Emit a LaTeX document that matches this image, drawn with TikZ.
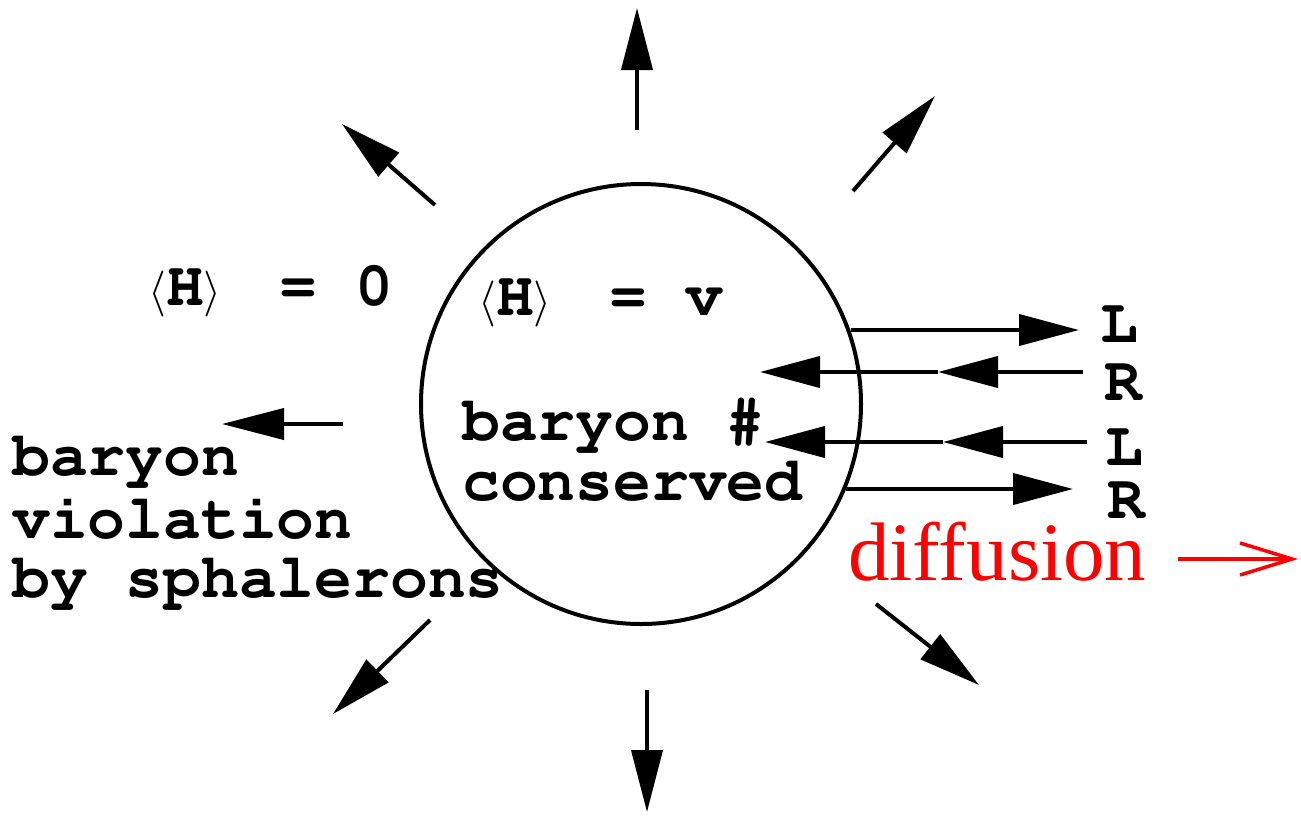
\RequirePackage{fix-cm}
\documentclass[tikz,border=0pt]{standalone}
\usepackage[T1]{fontenc}
\usepackage{fontspec}
\setmainfont{Liberation Serif}
\usetikzlibrary{arrows.meta}

\newcommand{\bigmono}{\fontencoding{T1}\fontfamily{pcr}\fontseries{b}\fontsize{63}{62}\selectfont}
\newcommand{\hvev}[1]{{\fontsize{46}{46}\selectfont$\langle$}H{\fontsize{46}{46}\selectfont$\rangle$}\hspace{58pt}= #1}

\begin{document}
\begin{tikzpicture}[x=1pt,y=-1pt,
  mono/.style={font=\bigmono,inner sep=0pt,anchor=base west,align=left},
  ray/.style={line width=4pt,-{Triangle[length=62pt,width=31pt]}},
  flow/.style={line width=4pt,-{Triangle[length=60pt,width=31pt]}}]
\useasboundingbox (0,0) rectangle (1301,815);
% the bubble
\draw[line width=4pt] (641,404) circle[radius=220pt];
% expanding wall
\draw[ray] (637,130) -- (637,8);
\draw[ray] (853,191) -- (935,96);
\draw[ray] (435,205) -- (342,124);
\draw[ray] (343,424) -- (222,424);
\draw[ray] (430,620) -- (333,714);
\draw[ray] (647,690) -- (647,812);
\draw[ray] (876,604) -- (979,685);
% texts (base = last line)
\node[mono] (hout) at (148,305) {\hvev{0}};
\node[mono] (hin) at (478,315) {\hvev{v}};
\node[mono] (conserved) at (462,500) {baryon \#\\[-2pt]conserved};
\node[mono] (violation) at (12,597) {baryon\\[1pt]violation\\[-3pt]by sphalerons};
% chiral fluxes
\coordinate (a1) at (851,330); \coordinate (b1) at (1079,330);
\coordinate (a2) at (1083,372); \coordinate (m2) at (938,372); \coordinate (b2) at (760,372);
\coordinate (a3) at (1087,442); \coordinate (m3) at (943,442); \coordinate (b3) at (765,442);
\coordinate (a4) at (846,489); \coordinate (b4) at (1073,489);
\draw[flow] (a1) -- (b1);
\draw[flow] (a2) -- (m2);
\draw[flow] (m2) -- (b2);
\draw[flow] (a3) -- (m3);
\draw[flow] (m3) -- (b3);
\draw[flow] (a4) -- (b4);
\node[mono] (l1) at (1100,342) {L};
\node[mono] (r2) at (1104,400) {R};
\node[mono] (l3) at (1105,465) {L};
\node[mono] (r4) at (1107,518) {R};
% diffusion
\node[font=\fontsize{83}{83}\selectfont,text=red,inner sep=0pt,anchor=base west] (diff) at (848,580) {diffusion};
\coordinate (d1) at (1178,559); \coordinate (d2) at (1298,559);
\draw[red,line width=3.5pt,-{Straight Barb[length=52pt,width=32pt]}] (d1) -- (d2);
\end{tikzpicture}
\end{document}
